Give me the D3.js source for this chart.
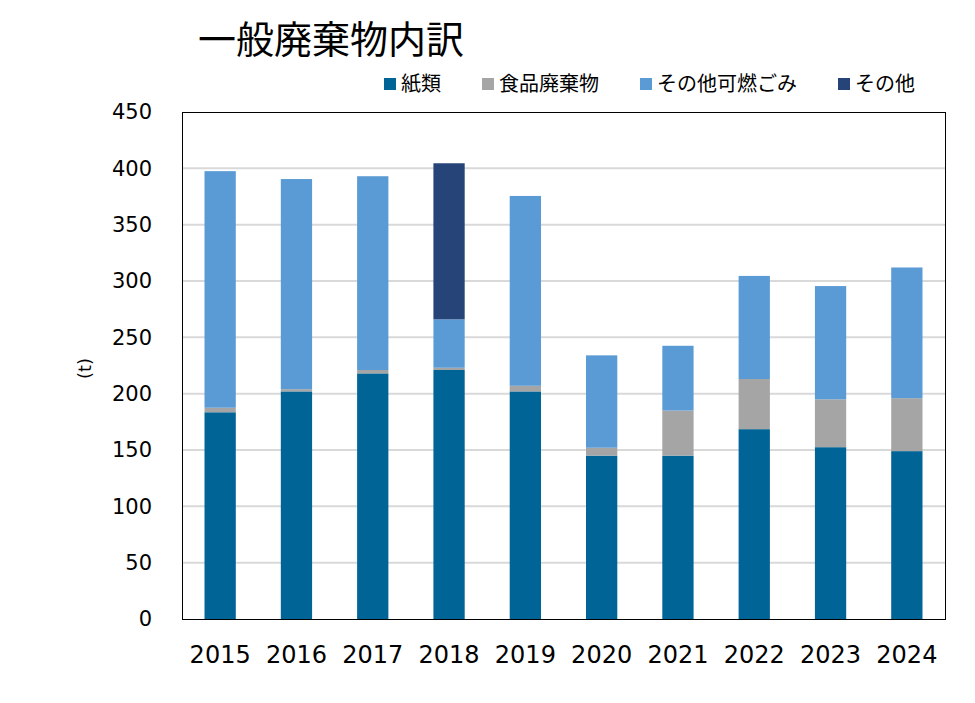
<!DOCTYPE html>
<html><head><meta charset="utf-8">
<script src="https://cdn.jsdelivr.net/npm/d3@7"></script>
<style>
html,body{margin:0;padding:0;background:#fff;}
svg{display:block;}
</style>
</head><body>
<svg id="chart" width="975" height="703"></svg>
<script>
const years = ["2015","2016","2017","2018","2019","2020","2021","2022","2023","2024"];
const paper = [183.5, 202, 218, 221, 202, 145, 145, 168.5, 152.5, 149];
const food = [4, 2, 3, 2, 5, 7, 40, 44.5, 42.5, 47];
const otherBurnable = [210, 186.5, 172, 43, 168.5, 82, 57.5, 91.5, 100.5, 116];
const others = [0, 0, 0, 138.5, 0, 0, 0, 0, 0, 0];
const seriesNames = ["紙類", "食品廃棄物", "その他可燃ごみ", "その他"];
const yTicks = [0, 50, 100, 150, 200, 250, 300, 350, 400, 450];
const titleText = "一般廃棄物内訳";
const yLabel = "(t)";

const colors = ["#006496", "#a5a5a5", "#5b9bd5", "#264478"];
const keys = ["paper", "food", "otherBurnable", "others"];
const table = years.map((y, i) => ({year: y, paper: paper[i], food: food[i], otherBurnable: otherBurnable[i], others: others[i]}));

const svg = d3.select("#chart");
const m = {left: 182, right: 30, top: 112, bottom: 84};
const W = 975, H = 703;
const pw = W - m.left - m.right, ph = H - m.top - m.bottom;

const x = d3.scaleBand().domain(years).range([m.left, m.left + pw]).paddingInner(0.59).paddingOuter(0.295);
const y = d3.scaleLinear().domain([0, 450]).range([m.top + ph, m.top]);

// gridlines
svg.append("g").selectAll("line").data(yTicks.filter(t => t > 0 && t < 450)).join("line")
  .attr("x1", m.left).attr("x2", m.left + pw)
  .attr("y1", d => y(d)).attr("y2", d => y(d))
  .attr("stroke", "#d9d9d9").attr("stroke-width", 2);

// bars
const stack = d3.stack().keys(keys)(table);
svg.append("g").selectAll("g").data(stack).join("g")
  .attr("fill", (d, i) => colors[i])
  .selectAll("rect").data(d => d).join("rect")
  .attr("x", d => x(d.data.year))
  .attr("width", x.bandwidth())
  .attr("y", d => y(d[1]))
  .attr("height", d => Math.max(0, y(d[0]) - y(d[1])));

// frame
svg.append("rect").attr("x", m.left + 0.5).attr("y", m.top + 0.5)
  .attr("width", pw).attr("height", ph)
  .attr("fill", "none").attr("stroke", "#000").attr("stroke-width", 1);

// y axis
const yAxis = d3.axisLeft(y).tickValues(yTicks).tickSize(0).tickPadding(30);
const gy = svg.append("g").attr("transform", `translate(${m.left},0)`).call(yAxis);
gy.select(".domain").remove();
gy.selectAll("text").attr("font-family", "DejaVu Sans, Verdana, sans-serif").attr("font-size", 21).attr("fill", "#000");

// x axis
const xAxis = d3.axisBottom(x).tickSize(0).tickPadding(27);
const gx = svg.append("g").attr("transform", `translate(0,${m.top + ph})`).call(xAxis);
gx.select(".domain").remove();
gx.selectAll("text").attr("font-family", "DejaVu Sans, Verdana, sans-serif").attr("font-size", 24).attr("fill", "#000");

// y label
svg.append("text").attr("transform", `translate(91,${m.top + ph / 2 + 3}) rotate(-90)`)
  .attr("text-anchor", "middle")
  .attr("font-family", "DejaVu Sans, sans-serif").attr("font-size", 18).attr("fill", "#000")
  .text(yLabel);

// title
svg.append("text").attr("x", 198).attr("y", 53)
  .attr("font-family", "Noto Sans CJK JP, sans-serif").attr("font-size", 38).attr("fill", "#000")
  .text(titleText);

// legend
const lg = svg.append("g").attr("transform", "translate(384,84)");
let cx = 0;
const gap = 41;
seriesNames.forEach((name, i) => {
  const g = lg.append("g").attr("transform", `translate(${cx},0)`);
  g.append("rect").attr("x", 0).attr("y", -6).attr("width", 12).attr("height", 12).attr("fill", colors[i]);
  const t = g.append("text").attr("x", 17).attr("y", 7)
    .attr("font-family", "Noto Sans CJK JP, sans-serif").attr("font-size", 20).attr("fill", "#000")
    .text(name);
  const tw = t.node().getComputedTextLength();
  cx += 17 + tw + gap;
});
</script>
</body></html>
